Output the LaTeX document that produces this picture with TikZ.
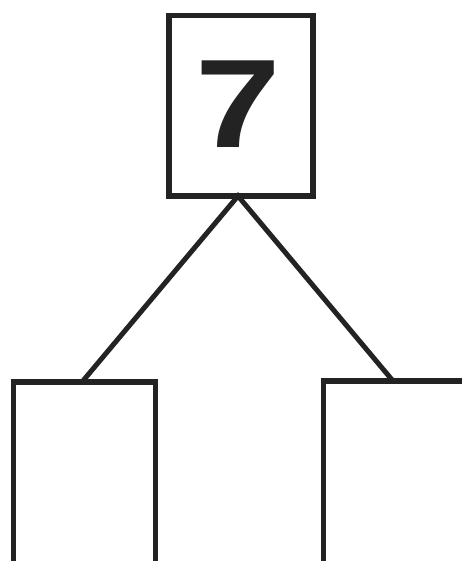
\documentclass[tikz,border=0pt]{standalone}
\usepackage{fontspec}
\newfontfamily\digitfont{Liberation Sans}
\definecolor{ink}{HTML}{232323}
\begin{document}
\begin{tikzpicture}[x=1pt,y=-1pt,
  box/.style={draw=ink,line width=5.5pt,fill=white,inner sep=0pt,outer sep=0pt},
  conn/.style={draw=ink,line width=5pt}]
\useasboundingbox (0,0) rectangle (462,561);
\clip (0,0) rectangle (462,561);
\fill[white] (0,0) rectangle (462,561);
\node[box,minimum width=144pt,minimum height=180.5pt] (top) at (241,105.75) {};
\node[box,minimum width=142pt,minimum height=200pt] (lbox) at (84.5,482) {};
\node[box,minimum width=142pt,minimum height=200pt] (rbox) at (394.5,481) {};
\node[text=ink,inner sep=0pt,xscale=1.22,anchor=base] (seven) at (238,148) {\digitfont\bfseries\fontsize{126}{126}\selectfont 7};
\coordinate (apex) at ([xshift=-3pt]top.south);
\coordinate (lend) at ([xshift=-2.5pt]lbox.north);
\coordinate (rend) at ([xshift=-1.5pt]rbox.north);
\draw[conn] (lend) -- (apex) -- (rend);
\end{tikzpicture}
\end{document}
